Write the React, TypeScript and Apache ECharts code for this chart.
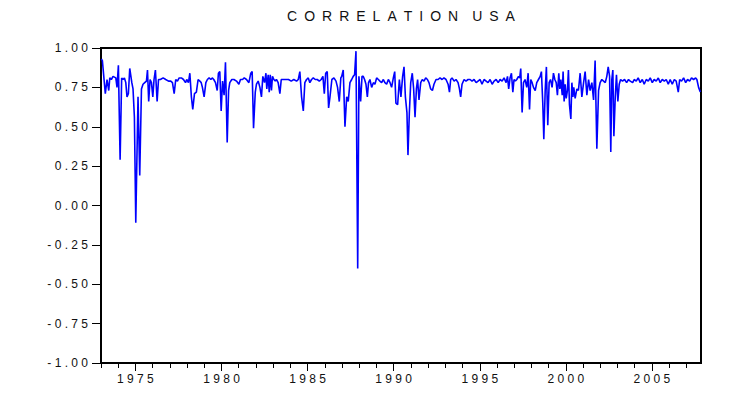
import React, { useEffect, useRef } from "react";
import * as echarts from "echarts";

const titleWords = ["CORRELATION", "USA"];

const tickYears = [1973, 1974, 1975, 1976, 1977, 1978, 1979, 1980, 1981, 1982, 1983, 1984, 1985, 1986, 1987, 1988, 1989, 1990, 1991, 1992, 1993, 1994, 1995, 1996, 1997, 1998, 1999, 2000, 2001, 2002, 2003, 2004, 2005, 2006, 2007];
const majorYears = [1975, 1980, 1985, 1990, 1995, 2000, 2005];

const years = [
  1973.02, 1973.08, 1973.25, 1973.35, 1973.45, 1973.51, 1973.60, 1973.70, 1973.86, 1973.93,
  1974.01, 1974.11, 1974.20, 1974.28, 1974.36, 1974.44, 1974.51, 1974.59, 1974.67, 1974.79,
  1974.86, 1974.94, 1975.02, 1975.15, 1975.25, 1975.35, 1975.44, 1975.54, 1975.64, 1975.70,
  1975.77, 1975.85, 1975.93, 1976.01, 1976.08, 1976.16, 1976.26, 1976.34, 1976.45, 1976.61,
  1976.76, 1976.92, 1977.05, 1977.15, 1977.25, 1977.34, 1977.44, 1977.54, 1977.67, 1977.79,
  1977.91, 1977.98, 1978.08, 1978.16, 1978.25, 1978.33, 1978.43, 1978.54, 1978.64, 1978.74,
  1978.82, 1978.89, 1978.99, 1979.09, 1979.18, 1979.28, 1979.38, 1979.46, 1979.55, 1979.65,
  1979.75, 1979.82, 1979.90, 1979.98, 1980.06, 1980.15, 1980.23, 1980.33, 1980.41, 1980.48,
  1980.60, 1980.72, 1980.87, 1981.01, 1981.10, 1981.22, 1981.32, 1981.45, 1981.59, 1981.70,
  1981.78, 1981.86, 1981.96, 1982.03, 1982.13, 1982.23, 1982.32, 1982.40, 1982.50, 1982.58,
  1982.63, 1982.71, 1982.77, 1982.83, 1982.90, 1982.96, 1983.04, 1983.12, 1983.19, 1983.29,
  1983.39, 1983.47, 1983.58, 1983.74, 1983.89, 1984.05, 1984.20, 1984.36, 1984.46, 1984.55,
  1984.65, 1984.75, 1984.84, 1984.94, 1985.04, 1985.13, 1985.23, 1985.33, 1985.44, 1985.56,
  1985.68, 1985.79, 1985.89, 1985.97, 1986.05, 1986.14, 1986.22, 1986.30, 1986.41, 1986.53,
  1986.65, 1986.74, 1986.84, 1986.93, 1986.98, 1987.07, 1987.17, 1987.27, 1987.36, 1987.46,
  1987.56, 1987.65, 1987.73, 1987.81, 1987.91, 1987.98, 1988.08, 1988.16, 1988.23, 1988.31,
  1988.39, 1988.47, 1988.54, 1988.62, 1988.72, 1988.82, 1988.91, 1989.01, 1989.11, 1989.20,
  1989.30, 1989.40, 1989.49, 1989.59, 1989.69, 1989.79, 1989.88, 1989.98, 1990.06, 1990.13,
  1990.23, 1990.33, 1990.42, 1990.52, 1990.60, 1990.68, 1990.77, 1990.83, 1990.91, 1990.99,
  1991.08, 1991.16, 1991.24, 1991.32, 1991.39, 1991.47, 1991.57, 1991.66, 1991.76, 1991.86,
  1991.96, 1992.05, 1992.15, 1992.25, 1992.34, 1992.46, 1992.58, 1992.69, 1992.81, 1992.92,
  1993.04, 1993.16, 1993.24, 1993.31, 1993.39, 1993.51, 1993.62, 1993.74, 1993.82, 1993.89,
  1993.97, 1994.09, 1994.20, 1994.32, 1994.44, 1994.55, 1994.67, 1994.79, 1994.90, 1995.02,
  1995.13, 1995.25, 1995.37, 1995.48, 1995.60, 1995.72, 1995.83, 1995.95, 1996.07, 1996.18,
  1996.30, 1996.41, 1996.53, 1996.61, 1996.68, 1996.76, 1996.84, 1996.92, 1996.99, 1997.07,
  1997.15, 1997.25, 1997.32, 1997.38, 1997.46, 1997.54, 1997.63, 1997.73, 1997.81, 1997.89,
  1997.96, 1998.04, 1998.12, 1998.22, 1998.31, 1998.41, 1998.51, 1998.58, 1998.66, 1998.72,
  1998.80, 1998.87, 1998.95, 1999.03, 1999.11, 1999.20, 1999.28, 1999.36, 1999.44, 1999.51,
  1999.59, 1999.65, 1999.71, 1999.79, 1999.84, 1999.90, 1999.96, 2000.02, 2000.09, 2000.15,
  2000.21, 2000.29, 2000.35, 2000.41, 2000.46, 2000.54, 2000.64, 2000.73, 2000.83, 2000.93,
  2001.03, 2001.12, 2001.22, 2001.32, 2001.41, 2001.51, 2001.61, 2001.70, 2001.80, 2001.90,
  2001.99, 2002.09, 2002.19, 2002.29, 2002.38, 2002.46, 2002.54, 2002.61, 2002.67, 2002.73,
  2002.79, 2002.87, 2002.94, 2003.02, 2003.10, 2003.18, 2003.29, 2003.41, 2003.53, 2003.64,
  2003.74, 2003.88, 2003.97, 2004.09, 2004.20, 2004.32, 2004.44, 2004.55, 2004.67, 2004.79,
  2004.90, 2005.02, 2005.13, 2005.25, 2005.37, 2005.48, 2005.60, 2005.72, 2005.83, 2005.95,
  2006.06, 2006.18, 2006.30, 2006.41, 2006.53, 2006.61, 2006.72, 2006.84, 2006.96, 2007.07,
  2007.19, 2007.30, 2007.42, 2007.54, 2007.61, 2007.71, 2007.81,
];

const values = [
  0.93, 0.92, 0.71, 0.80, 0.73, 0.81, 0.80, 0.82, 0.81, 0.75,
  0.89, 0.29, 0.81, 0.80, 0.81, 0.78, 0.69, 0.71, 0.87, 0.78,
  0.74, 0.56, -0.11, 0.69, 0.19, 0.74, 0.77, 0.78, 0.79, 0.86,
  0.66, 0.80, 0.78, 0.69, 0.80, 0.86, 0.66, 0.80, 0.80, 0.81,
  0.80, 0.79, 0.79, 0.78, 0.71, 0.80, 0.79, 0.81, 0.81, 0.80,
  0.78, 0.80, 0.78, 0.84, 0.69, 0.61, 0.71, 0.72, 0.80, 0.79,
  0.78, 0.75, 0.69, 0.78, 0.80, 0.81, 0.80, 0.81, 0.80, 0.78,
  0.73, 0.84, 0.85, 0.60, 0.79, 0.70, 0.91, 0.40, 0.73, 0.78,
  0.80, 0.80, 0.79, 0.77, 0.80, 0.80, 0.81, 0.80, 0.78, 0.84,
  0.85, 0.49, 0.72, 0.77, 0.79, 0.75, 0.69, 0.82, 0.78, 0.84,
  0.74, 0.83, 0.72, 0.83, 0.73, 0.82, 0.80, 0.79, 0.80, 0.78,
  0.71, 0.80, 0.80, 0.80, 0.80, 0.79, 0.80, 0.79, 0.80, 0.85,
  0.69, 0.60, 0.78, 0.80, 0.81, 0.78, 0.80, 0.81, 0.80, 0.80,
  0.79, 0.80, 0.82, 0.71, 0.84, 0.85, 0.62, 0.69, 0.80, 0.81,
  0.79, 0.75, 0.66, 0.81, 0.82, 0.86, 0.50, 0.69, 0.66, 0.78,
  0.80, 0.82, 0.83, 0.98, -0.40, 0.82, 0.66, 0.82, 0.82, 0.80,
  0.77, 0.69, 0.78, 0.80, 0.75, 0.78, 0.77, 0.81, 0.80, 0.79,
  0.78, 0.80, 0.78, 0.77, 0.80, 0.78, 0.75, 0.81, 0.85, 0.65,
  0.64, 0.80, 0.69, 0.82, 0.88, 0.69, 0.59, 0.32, 0.59, 0.78,
  0.84, 0.74, 0.56, 0.74, 0.80, 0.67, 0.78, 0.80, 0.79, 0.81,
  0.80, 0.78, 0.74, 0.73, 0.77, 0.80, 0.80, 0.81, 0.80, 0.81,
  0.80, 0.77, 0.72, 0.80, 0.81, 0.79, 0.80, 0.78, 0.74, 0.69,
  0.77, 0.80, 0.79, 0.80, 0.80, 0.79, 0.80, 0.78, 0.79, 0.80,
  0.77, 0.80, 0.79, 0.78, 0.80, 0.77, 0.79, 0.80, 0.78, 0.80,
  0.79, 0.81, 0.78, 0.82, 0.74, 0.81, 0.84, 0.72, 0.80, 0.79,
  0.80, 0.82, 0.81, 0.87, 0.59, 0.78, 0.80, 0.75, 0.84, 0.61,
  0.80, 0.78, 0.75, 0.73, 0.78, 0.80, 0.82, 0.85, 0.65, 0.42,
  0.73, 0.88, 0.51, 0.78, 0.80, 0.75, 0.84, 0.80, 0.78, 0.70,
  0.84, 0.74, 0.80, 0.70, 0.85, 0.66, 0.77, 0.68, 0.73, 0.86,
  0.64, 0.55, 0.78, 0.69, 0.75, 0.68, 0.74, 0.73, 0.84, 0.69,
  0.78, 0.85, 0.70, 0.80, 0.73, 0.78, 0.67, 0.92, 0.36, 0.73,
  0.78, 0.80, 0.79, 0.78, 0.82, 0.88, 0.82, 0.34, 0.80, 0.86,
  0.44, 0.69, 0.83, 0.66, 0.77, 0.80, 0.79, 0.80, 0.78, 0.80,
  0.79, 0.78, 0.80, 0.79, 0.81, 0.78, 0.80, 0.77, 0.80, 0.79,
  0.81, 0.78, 0.80, 0.79, 0.81, 0.78, 0.80, 0.79, 0.80, 0.77,
  0.80, 0.77, 0.80, 0.79, 0.72, 0.80, 0.79, 0.81, 0.78, 0.80,
  0.79, 0.81, 0.80, 0.81, 0.80, 0.75, 0.72,
];

const spaced = (s: string) => s.split("").join(" ");
const EN = "\u2002";
const titleText = titleWords.map((w) => w.split("").join(EN)).join(EN + EN);
const FONT = "'Liberation Sans', Arial, sans-serif";

export default function App() {
  const ref = useRef<HTMLDivElement>(null);
  useEffect(() => {
    if (!ref.current) return;
    const chart = echarts.init(ref.current, null, { renderer: "svg" });
    const xMin = 1973;
    const xMax = 2007.85;
    chart.setOption({
      animation: false,
      backgroundColor: "#ffffff",
      graphic: [
        {
          type: "text",
          x: 401,
          y: 16,
          style: {
            text: titleText,
            align: "center",
            verticalAlign: "middle",
            fontFamily: FONT,
            fontSize: 14,
            fill: "#111",
          },
        },
      ],
      grid: {
        left: 101,
        top: 48,
        right: 49,
        bottom: 34,
        show: true,
        borderColor: "#000",
        borderWidth: 2,
        backgroundColor: "#fff",
      },
      xAxis: [
        {
          type: "value",
          min: xMin,
          max: xMax,
          position: "bottom",
          splitLine: { show: false },
          axisLine: { show: true, onZero: false, lineStyle: { color: "#000", width: 2 } },
          axisTick: {
            show: true,
            inside: false,
            length: 5,
            customValues: tickYears,
            lineStyle: { color: "#000", width: 1 },
          },
          axisLabel: { show: false },
        },
        {
          type: "value",
          min: xMin,
          max: xMax,
          position: "bottom",
          offset: 0,
          splitLine: { show: false },
          axisLine: { show: false, onZero: false },
          axisTick: {
            show: true,
            inside: false,
            length: 8,
            customValues: majorYears,
            lineStyle: { color: "#000", width: 1 },
          },
          axisLabel: {
            show: true,
            customValues: majorYears,
            margin: 10,
            fontFamily: FONT,
            fontSize: 12,
            color: "#111",
            formatter: (v: number) => spaced(String(Math.round(v))),
          },
        },
      ],
      yAxis: {
        type: "value",
        min: -1,
        max: 1,
        interval: 0.25,
        splitLine: { show: false },
        axisLine: { show: true, onZero: false, lineStyle: { color: "#000", width: 2 } },
        axisTick: { show: true, inside: false, length: 9, lineStyle: { color: "#000", width: 1 } },
        axisLabel: {
          margin: 13,
          fontFamily: FONT,
          fontSize: 12,
          color: "#111",
          formatter: (v: number) => spaced(v.toFixed(2)),
        },
      },
      series: [
        {
          type: "line",
          xAxisIndex: 0,
          data: years.map((y, i) => [y, values[i]]),
          showSymbol: false,
          symbol: "none",
          lineStyle: { color: "#0000ff", width: 1.6 },
          clip: true,
        },
      ],
    });
    return () => chart.dispose();
  }, []);
  return (
    <div
      ref={ref}
      style={{ position: "fixed", left: 0, top: 0, width: 750, height: 397, background: "#fff" }}
    />
  );
}
